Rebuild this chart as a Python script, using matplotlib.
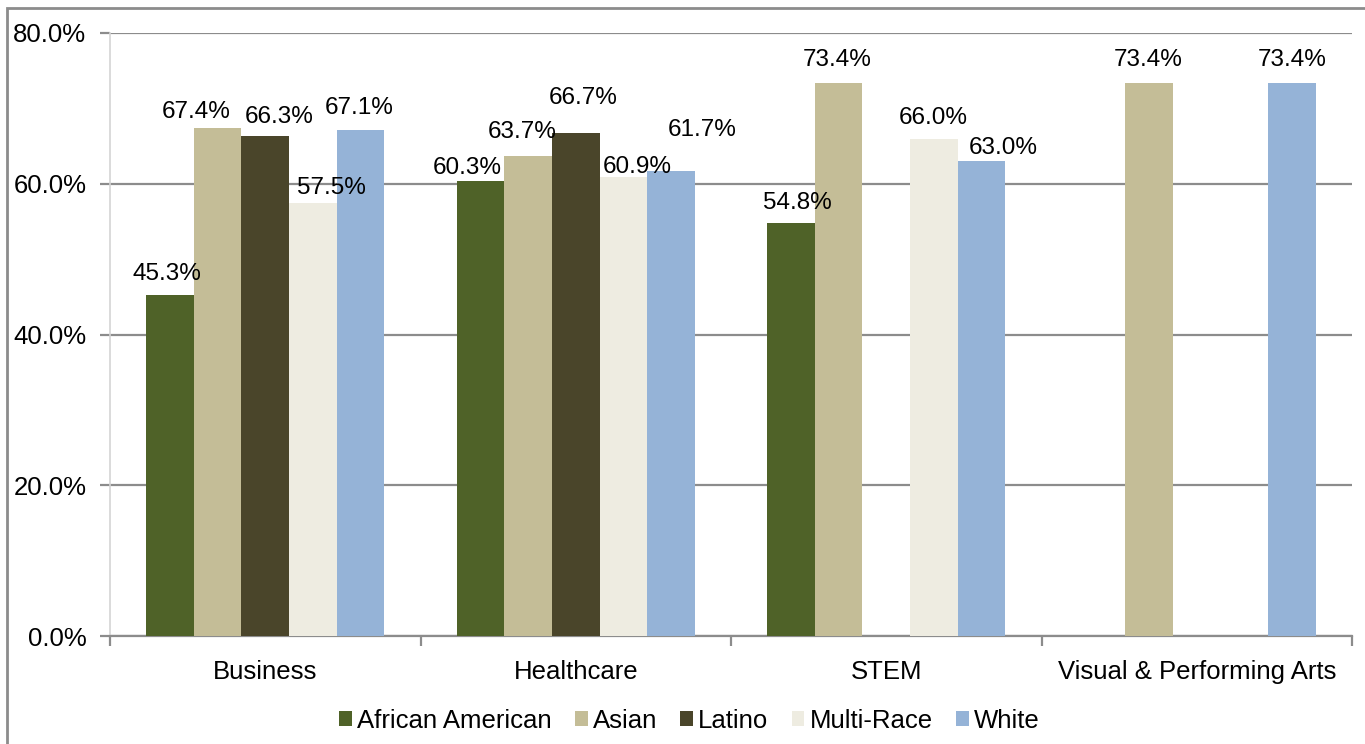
import matplotlib
matplotlib.use("Agg")
import matplotlib.pyplot as plt
import numpy as np
from matplotlib.patches import Rectangle

plt.rcParams['font.family'] = ['Liberation Sans', 'DejaVu Sans']

categories = ["Business", "Healthcare", "STEM", "Visual & Performing Arts"]
groups = ["African American", "Asian", "Latino", "Multi-Race", "White"]
african_american = [45.3, 60.3, 54.8, np.nan]
asian = [67.4, 63.7, 73.4, 73.4]
latino = [66.3, 66.7, np.nan, np.nan]
multi_race = [57.5, 60.9, 66.0, np.nan]
white = [67.1, 61.7, 63.0, 73.4]
series = [african_american, asian, latino, multi_race, white]
colors = ["#4F6228", "#C4BD97", "#4A452A", "#EEECE1", "#95B3D7"]

# label nudges in pixels (dx, dy) from the top centre of each bar
nudges = [
    [(-3, 21), (-13, 13), (6, 20), (0, 23)],
    [(-21, 16), (-6, 24), (-1, 23), (-1, 23)],
    [(14, 19), (7, 35), (0, 0), (0, 0)],
    [(19, 15), (14, 10), (-1, 21), (0, 0)],
    [(-1, 22), (31, 41), (22, 13), (0, 23)],
]

W, H = 1365, 744
fig = plt.figure(figsize=(W / 100, H / 100), dpi=100)
ax = fig.add_axes([110 / W, 1 - 636 / H, (1352 - 110) / W, (636 - 33) / H])

x = np.arange(len(categories))
bw = 0.1533
for i, (vals, col, name) in enumerate(zip(series, colors, groups)):
    pos = x + (i - 2) * bw
    ax.bar(pos, vals, bw, color=col, label=name, zorder=3, linewidth=0)
    for j, v in enumerate(vals):
        if np.isnan(v):
            continue
        dx, dy = nudges[i][j]
        ax.annotate(f"{v:.1f}%", (pos[j], v), xytext=(dx, dy),
                    textcoords="offset pixels", ha="center", va="center",
                    fontsize=17.5, color="black", zorder=4)

ax.set_xlim(-0.5, len(categories) - 0.5)
ax.set_ylim(0, 80)
ax.set_yticks(np.arange(0, 81, 20))
ax.set_yticklabels([f"{t:.1f}%" for t in np.arange(0, 81, 20)], fontsize=18.5)
ax.yaxis.grid(True, color="#8c8c8c", linewidth=1.6, zorder=0)
ax.tick_params(axis="y", length=7, width=1.6, color="#8c8c8c", pad=10)

ax.set_xticks(np.arange(len(categories) + 1) - 0.5)
ax.set_xticklabels([])
ax.set_xticks(x, minor=True)
ax.set_xticklabels(categories, minor=True, fontsize=18.5)
ax.tick_params(axis="x", which="major", length=7, width=1.6, color="#8c8c8c")
ax.tick_params(axis="x", which="minor", length=0, pad=17)

for s in ["top", "right"]:
    ax.spines[s].set_visible(False)
ax.spines["left"].set_color("#d4d4d4")
ax.spines["left"].set_linewidth(1.2)
ax.spines["bottom"].set_color("#8c8c8c")
ax.spines["bottom"].set_linewidth(1.6)

fig.legend(loc="center", bbox_to_anchor=(0.505, 0.031), ncol=5, frameon=False,
           fontsize=18.5, handlelength=0.5, handleheight=0.5,
           handletextpad=0.2, columnspacing=0.9)

# outer chart border
fig.patches.append(Rectangle((7 / W, -0.1), 1.2, 1 - 8 / H + 0.1,
                             transform=fig.transFigure, fill=False,
                             edgecolor="#8c8c8c", linewidth=2))

fig.savefig("out.png", dpi=100)
